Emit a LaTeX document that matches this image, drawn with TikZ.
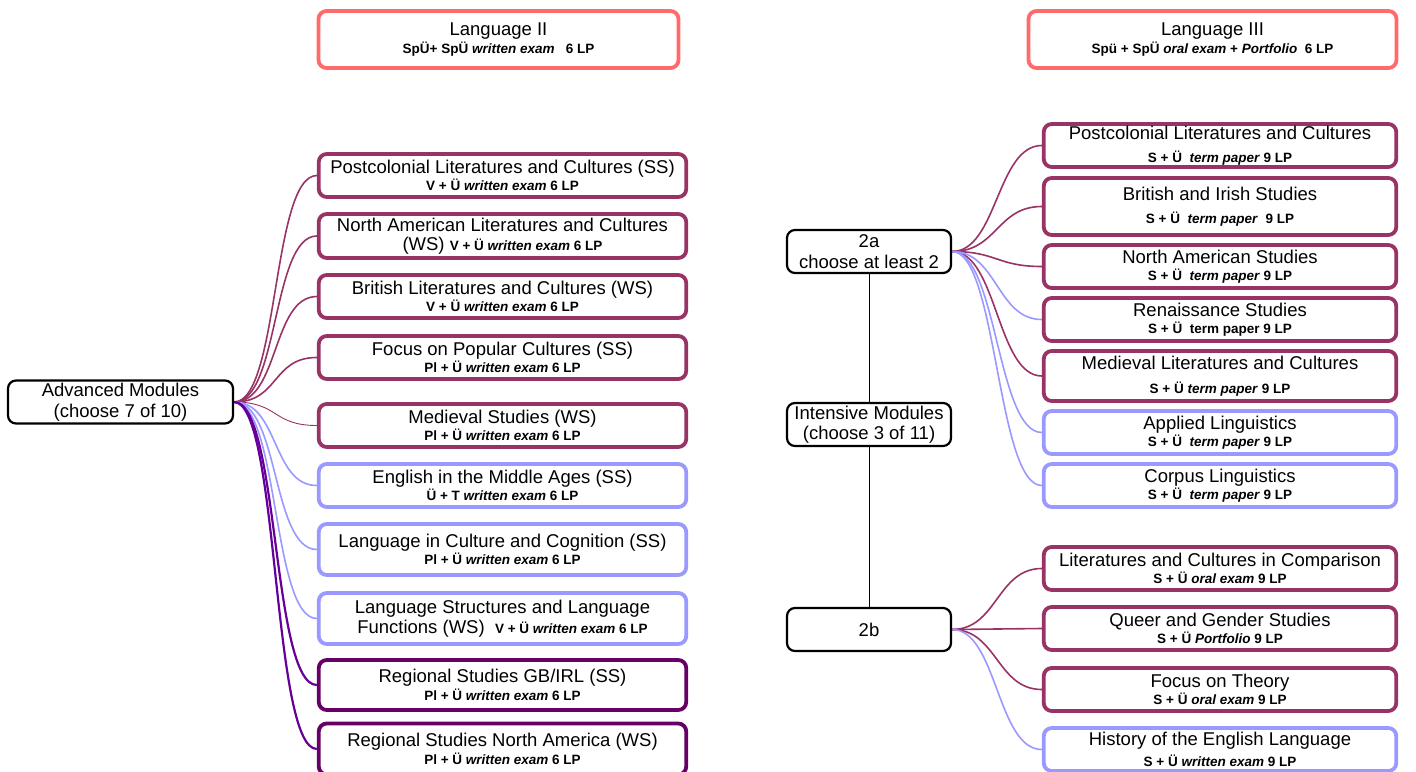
\documentclass[tikz,border=0pt]{standalone}
\usepackage{fontspec}
\setmainfont{Liberation Sans}
\usetikzlibrary{backgrounds}
\definecolor{plum}{HTML}{993366}
\definecolor{lilac}{HTML}{9999FF}
\definecolor{aubergine}{HTML}{660066}
\definecolor{violetline}{HTML}{660099}
\definecolor{salmon}{HTML}{FF6B6B}
\newcommand{\exinfo}[1]{{\fontsize{13.5}{17}\selectfont\bfseries #1}}
\tikzset{
  box/.style={draw, fill=white, rounded corners=8pt, align=center, inner sep=1pt,
    font=\fontsize{18.5}{17.5}\selectfont},
  hubbox/.style={box, line width=2.2pt, minimum width=225pt, minimum height=43pt},
  langbox/.style={box, draw=salmon, line width=3.8pt, minimum width=360pt, minimum height=57pt},
  leftbox/.style={box, line width=3.8pt, minimum width=367.5pt},
  rightbox/.style={box, line width=3.8pt, minimum width=352.5pt},
  lit/.style={draw=plum},
  ling/.style={draw=lilac},
  reg/.style={draw=aubergine},
  branch/.style={line width=1.6pt},
}
\newcommand{\branchto}[3]{\draw[branch, #1] (#2.east) .. controls +(45,0) and +(-45,0) .. (#3.west);}
\begin{document}
\begin{tikzpicture}[x=1pt,y=-1pt]
\useasboundingbox (0,0) rectangle (1416,771);

% language courses
\node[langbox] (lang2) at (498.5,39.5) {Language II\\\exinfo{SpÜ+ SpÜ \textit{written exam}\ \ \ 6 LP}};
\node[langbox, minimum width=368pt] (lang3) at (1212.5,39.5) {Language III\\\exinfo{Spü + SpÜ \textit{oral exam} + \textit{Portfolio}\ \ 6 LP}};

% hubs
\node[hubbox] (adv) at (120.5,402) {Advanced Modules\\[3pt](choose 7 of 10)};
\node[hubbox, minimum width=164pt] (twoa) at (869,251.5) {2a\\[3pt]choose at least 2};
\node[hubbox, minimum width=164pt] (intens) at (869,424.5) {Intensive Modules\\[3pt](choose 3 of 11)};
\node[hubbox, minimum width=164pt] (twob) at (869,629.5) {2b};

% advanced modules
\node[leftbox, lit, minimum height=43pt] (pcl) at (502.5,175.5) {Postcolonial Literatures and Cultures (SS)\\\exinfo{V + Ü \textit{written exam} 6 LP}};
\node[leftbox, lit, minimum height=44pt] (nal) at (502.5,236) {North American Literatures and Cultures\\[2pt](WS) \exinfo{V + Ü \textit{written exam} 6 LP}};
\node[leftbox, lit, minimum height=43pt] (blc) at (502.5,296.5) {British Literatures and Cultures (WS)\\\exinfo{V + Ü \textit{written exam} 6 LP}};
\node[leftbox, lit, minimum height=43pt] (fpc) at (502.5,357.5) {Focus on Popular Cultures (SS)\\\exinfo{Pl + Ü \textit{written exam} 6 LP}};
\node[leftbox, lit, minimum height=43pt] (med) at (502.5,425.5) {Medieval Studies (WS)\\\exinfo{Pl + Ü \textit{written exam} 6 LP}};
\node[leftbox, ling, minimum height=43pt] (ema) at (502.5,485.5) {English in the Middle Ages (SS)\\\exinfo{Ü + T \textit{written exam} 6 LP}};
\node[leftbox, ling, minimum height=51pt] (lcc) at (502.5,549.5) {Language in Culture and Cognition (SS)\\\exinfo{Pl + Ü \textit{written exam} 6 LP}};
\node[leftbox, ling, minimum height=51pt] (lsf) at (502.5,618.5) {Language Structures and Language\\[2pt]Functions (WS)\ \ \exinfo{V + Ü \textit{written exam} 6 LP}};
\node[leftbox, reg, minimum height=50pt] (rgb) at (502.5,685) {Regional Studies GB/IRL (SS)\\\exinfo{Pl + Ü \textit{written exam} 6 LP}};
\node[leftbox, reg, minimum height=51pt] (rna) at (502.5,749) {Regional Studies North America (WS)\\\exinfo{Pl + Ü \textit{written exam} 6 LP}};

% intensive modules 2a
\node[rightbox, lit, minimum height=43pt] (ipc) at (1220,145.5) {Postcolonial Literatures and Cultures\\[5pt]\exinfo{S + Ü\ \ \textit{term paper} 9 LP}};
\node[rightbox, lit, minimum height=57pt] (bis) at (1220,206.5) {British and Irish Studies\\[5pt]\exinfo{S + Ü\ \ \textit{term paper}\ \ 9 LP}};
\node[rightbox, lit, minimum height=43pt] (nas) at (1220,266.5) {North American Studies\\\exinfo{S + Ü\ \ \textit{term paper} 9 LP}};
\node[rightbox, lit, minimum height=43pt] (ren) at (1220,319.5) {Renaissance Studies\\\exinfo{S + Ü\ \ term paper 9 LP}};
\node[rightbox, lit, minimum height=50pt] (mlc) at (1220,376) {Medieval Literatures and Cultures\\[6pt]\exinfo{S + Ü \textit{term paper} 9 LP}};
\node[rightbox, ling, minimum height=43pt] (apl) at (1220,432.5) {Applied Linguistics\\\exinfo{S + Ü\ \ \textit{term paper} 9 LP}};
\node[rightbox, ling, minimum height=43pt] (cpl) at (1220,485.5) {Corpus Linguistics\\\exinfo{S + Ü\ \ \textit{term paper} 9 LP}};

% intensive modules 2b
\node[rightbox, lit, minimum height=43pt] (lcp) at (1220,568.5) {Literatures and Cultures in Comparison\\\exinfo{S + Ü \textit{oral exam} 9 LP}};
\node[rightbox, lit, minimum height=43pt] (qgs) at (1220,628.5) {Queer and Gender Studies\\\exinfo{S + Ü \textit{Portfolio} 9 LP}};
\node[rightbox, lit, minimum height=43pt] (fth) at (1220,689.5) {Focus on Theory\\\exinfo{S + Ü \textit{oral exam} 9 LP}};
\node[rightbox, ling, minimum height=43pt] (hel) at (1220,749.5) {History of the English Language\\[3pt]\exinfo{S + Ü \textit{written exam} 9 LP}};

% connectors
\begin{pgfonlayer}{background}
\draw[line width=1pt] (twoa.south) -- (intens.north);
\draw[line width=1pt] (intens.south) -- (twob.north);
\foreach \m in {pcl,nal,blc,fpc} {\branchto{plum}{adv}{\m}}
\branchto{plum, line width=0.9pt}{adv}{med}
\foreach \m in {ema,lcc,lsf} {\branchto{lilac}{adv}{\m}}
\foreach \m in {rgb,rna} {\branchto{violetline, line width=2.2pt}{adv}{\m}}
\foreach \m in {ipc,bis,nas,mlc} {\branchto{plum}{twoa}{\m}}
\foreach \m in {ren,apl,cpl} {\branchto{lilac}{twoa}{\m}}
\foreach \m in {lcp,qgs,fth} {\branchto{plum}{twob}{\m}}
\branchto{lilac}{twob}{hel}
\end{pgfonlayer}
\end{tikzpicture}
\end{document}
